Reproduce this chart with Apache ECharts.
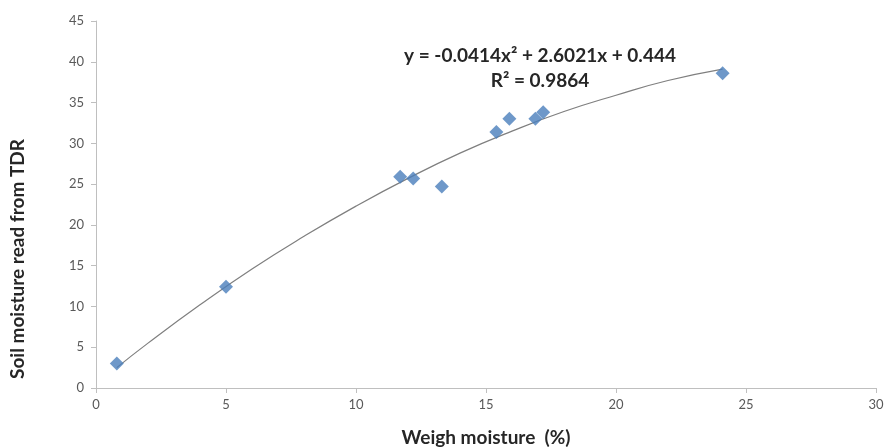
<!DOCTYPE html>
<html>
<head>
<meta charset="utf-8">
<title>Soil moisture vs weigh moisture</title>
<script src="https://cdn.jsdelivr.net/npm/echarts@6/dist/echarts.min.js"></script>
<style>
  html, body { margin: 0; padding: 0; background: #fff; }
  #chart { width: 886px; height: 447px; }
</style>
</head>
<body>
<div id="chart"></div>
<script>
// measured points (weigh moisture %, TDR reading)
var weighMoisture = [0.8, 5.0, 11.7, 12.2, 13.3, 15.4, 15.9, 16.9, 17.2, 24.1];
var tdrMoisture = [3.0, 12.4, 25.9, 25.7, 24.7, 31.4, 33.0, 33.0, 33.8, 38.6];

// trend line
var trendX = [0.8, 2, 4, 6, 8, 10, 12, 14, 16, 18, 20, 22, 24.1];
var trendY = [2.5, 5.5, 10.2, 14.6, 18.6, 22.3, 25.7, 28.8, 31.5, 33.9, 35.9, 37.7, 39.1];

var equationText = 'y = -0.0414x² + 2.6021x + 0.444';
var r2Text = 'R² = 0.9864';
var xTitle = 'Weigh moisture  (%)';
var yTitle = 'Soil moisture read from TDR';

var font = 'Lato, "Open Sans", sans-serif';
var axisGray = '#bfbfbf';
var labelGray = '#595959';
var titleColor = '#262626';

function pairs(xs, ys) {
    var out = [];
    for (var i = 0; i < xs.length; i++) out.push([xs[i], ys[i]]);
    return out;
}

var chart = echarts.init(document.getElementById('chart'));
chart.setOption({
    animation: false,
    grid: { left: 96, right: 10, top: 21, bottom: 59, outerBoundsMode: 'none' },
    textStyle: { fontFamily: font },
    xAxis: {
        type: 'value',
        min: 0, max: 30, interval: 5,
        axisLine: { show: true, lineStyle: { color: axisGray, width: 1 } },
        axisTick: { show: true, length: 5, lineStyle: { color: axisGray } },
        axisLabel: { color: labelGray, fontSize: 13, margin: 10, fontFamily: font },
        splitLine: { show: false }
    },
    yAxis: {
        type: 'value',
        min: 0, max: 45, interval: 5,
        axisLine: { show: true, lineStyle: { color: axisGray, width: 1 } },
        axisTick: { show: true, length: 5, lineStyle: { color: axisGray } },
        axisLabel: { color: labelGray, fontSize: 13, margin: 12, fontFamily: font },
        splitLine: { show: false }
    },
    series: [
        {
            name: 'Trend',
            type: 'line',
            data: pairs(trendX, trendY),
            smooth: true,
            showSymbol: false,
            lineStyle: { color: '#7f7f7f', width: 1.2 },
            z: 1
        },
        {
            name: 'Measured',
            type: 'scatter',
            data: pairs(weighMoisture, tdrMoisture),
            symbol: 'diamond',
            symbolSize: 14,
            itemStyle: { color: '#4a7ebb' },
            z: 2
        }
    ],
    graphic: [
        {
            type: 'text',
            x: 540, y: 43,
            style: {
                text: equationText + '\n' + r2Text,
                font: 'bold 19px ' + font,
                fill: titleColor,
                align: 'center',
                verticalAlign: 'top',
                lineHeight: 25
            }
        },
        {
            type: 'text',
            x: 486, y: 438,
            style: {
                text: xTitle,
                font: 'bold 19px ' + font,
                fill: titleColor,
                align: 'center',
                verticalAlign: 'middle'
            }
        },
        {
            // y axis title, sits a bit below the plot middle like the original
            type: 'text',
            x: 18, y: 259,
            rotation: Math.PI / 2,
            style: {
                text: yTitle,
                font: 'bold 19px ' + font,
                fill: titleColor,
                align: 'center',
                verticalAlign: 'middle'
            }
        }
    ]
});
</script>
</body>
</html>
